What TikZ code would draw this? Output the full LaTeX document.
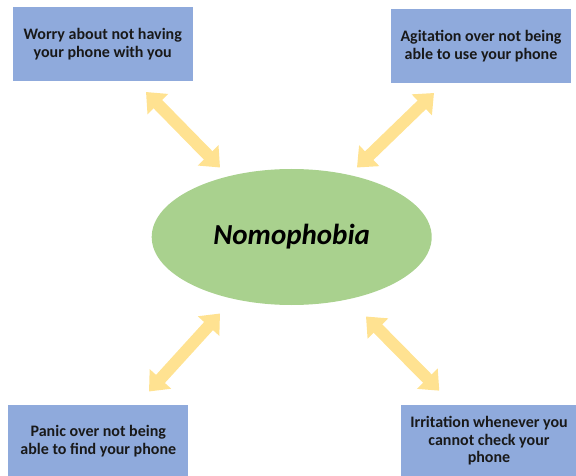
\documentclass[tikz,border=0pt]{standalone}
\usepackage{fontspec}
\setmainfont{Carlito}
\usetikzlibrary{arrows.meta,shapes.geometric}
\definecolor{boxblue}{RGB}{143,170,220}
\definecolor{ellgreen}{RGB}{169,209,142}
\definecolor{arrowyellow}{RGB}{255,226,145}
\tikzset{
  infobox/.style={rectangle, fill=boxblue, align=center, inner sep=0pt,
    font=\fontsize{16}{17.5}\selectfont\bfseries, text=black!90},
  mainell/.style={ellipse, fill=ellgreen, inner sep=0pt,
    minimum width=280pt, minimum height=136pt,
    font=\fontsize{29}{32}\selectfont\bfseries\itshape},
  fatarrow/.style={draw=arrowyellow, line width=12pt,
    {Triangle[width=28pt,length=17pt]}-{Triangle[width=28pt,length=17pt]}}
}
\begin{document}
\begin{tikzpicture}[x=1pt,y=-1pt]
\useasboundingbox (0,0) rectangle (576,476);
\node[infobox, minimum width=180pt, minimum height=74pt] (tl) at (102.7,44.3)
  {Worry about not having\\your phone with you};
\node[infobox, minimum width=180pt, minimum height=74pt] (tr) at (481,46.3)
  {Agitation over not being\\able to use your phone};
\node[infobox, minimum width=180pt, minimum height=72pt] (bl) at (98.3,441)
  {Panic over not being\\able to find your phone};
\node[infobox, minimum width=176pt, minimum height=72pt] (br) at (489,441)
  {Irritation whenever you\\cannot check your\\phone};
\node[mainell] (nomo) at (291.7,237) {Nomophobia};
\coordinate (tla) at (146,92);
\coordinate (tlb) at (220,167.5);
\coordinate (tra) at (434,93);
\coordinate (trb) at (357,167.5);
\coordinate (bla) at (220,313.5);
\coordinate (blb) at (149,391.5);
\coordinate (bra) at (366,316.5);
\coordinate (brb) at (439.3,390.7);
\draw[fatarrow] (tla) -- (tlb);
\draw[fatarrow] (tra) -- (trb);
\draw[fatarrow] (bla) -- (blb);
\draw[fatarrow] (bra) -- (brb);
\end{tikzpicture}
\end{document}
